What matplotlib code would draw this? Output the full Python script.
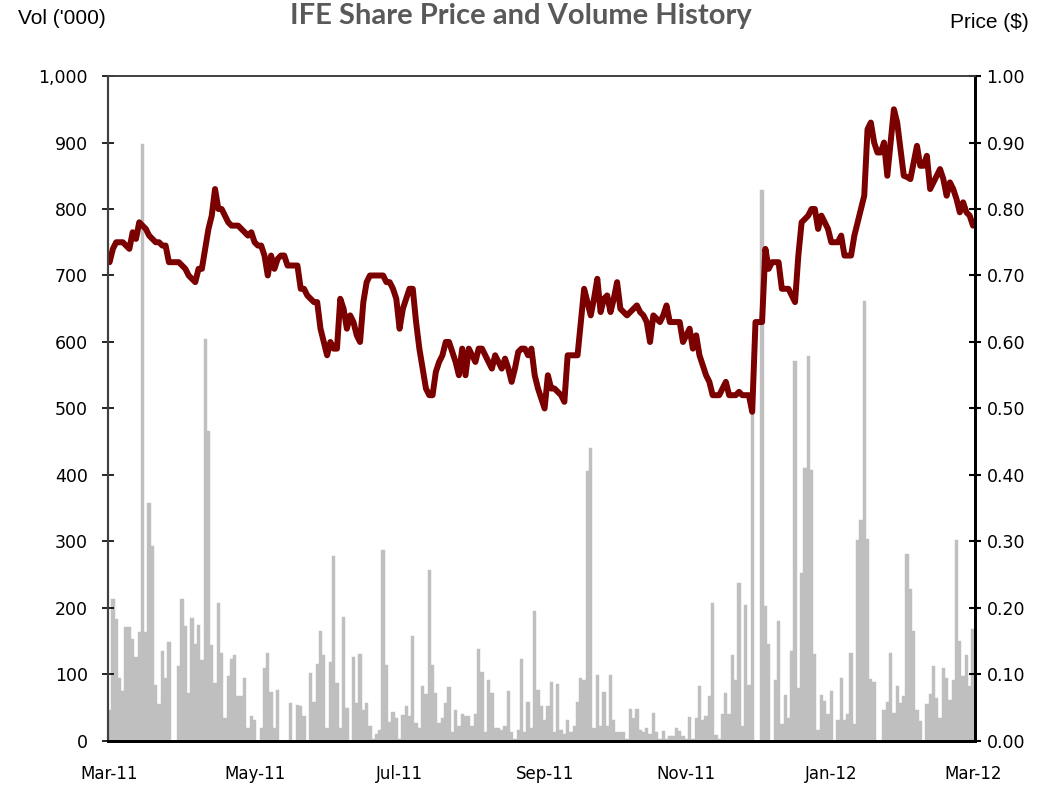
import numpy as np
import pandas as pd
import matplotlib
matplotlib.use('Agg')
import matplotlib.pyplot as plt
from matplotlib.ticker import FuncFormatter

# daily traded volume ('000), one value per trading day from 1 Mar 2011
volume = [
    47, 213, 183, 95, 75, 171, 171, 153, 126, 164,
    898, 164, 358, 293, 84, 56, 136, 94, 149, 0,
    0, 113, 213, 173, 72, 185, 146, 174, 122, 604,
    466, 144, 87, 207, 133, 35, 97, 123, 129, 67,
    67, 94, 20, 38, 32, 0, 20, 109, 132, 74,
    19, 77, 0, 0, 0, 57, 0, 54, 52, 37,
    0, 102, 59, 115, 166, 129, 20, 119, 278, 87,
    20, 187, 50, 0, 126, 57, 131, 47, 57, 22,
    3, 10, 17, 287, 114, 29, 44, 34, 3, 39,
    52, 37, 158, 27, 20, 83, 70, 257,
    114, 72, 27, 34, 57, 81, 13, 47, 23, 40,
    37, 38, 22, 40, 138, 104, 13, 92, 72, 20,
    19, 17, 23, 75, 13, 3, 17, 123, 13, 58,
    19, 195, 76, 52, 32, 52, 89, 13, 85, 17,
    10, 32, 13, 22, 58, 94, 91, 406, 441, 19,
    99, 23, 74, 23, 99, 32, 13, 13, 13, 3,
    48, 34, 48, 17, 13, 19, 10, 42, 13, 3,
    15, 3, 7, 8, 19, 15, 8, 3, 36, 3,
    34, 83, 32, 37, 67, 208, 9, 3, 40, 72,
    40, 129, 91, 237, 23, 205,
    84, 498, 0, 0, 828, 203, 146, 0, 91, 181,
    26, 69, 34, 136, 572, 79, 252, 411, 579, 407,
    131, 17, 69, 60, 40, 75, 0, 32, 95, 32,
    40, 133, 26, 302, 332, 661, 303, 93, 89, 0,
    0, 47, 59, 133, 42, 83, 57, 67, 281, 228,
    166, 47, 30, 0, 55, 70, 113, 64, 34, 109,
    94, 62, 92, 302, 151, 97, 130, 82, 168,
]

# closing share price ($)
price = [
    0.72, 0.74, 0.75, 0.75, 0.75, 0.745, 0.74, 0.765, 0.755, 0.78,
    0.775, 0.77, 0.76, 0.755, 0.75, 0.75, 0.745, 0.745, 0.72, 0.72,
    0.72, 0.72, 0.715, 0.71, 0.70, 0.695, 0.69, 0.71, 0.71, 0.74,
    0.77, 0.79, 0.83, 0.80, 0.80, 0.79, 0.78, 0.775, 0.775, 0.775,
    0.77, 0.765, 0.76, 0.765, 0.75, 0.745, 0.745, 0.73, 0.70, 0.73,
    0.71, 0.725, 0.73, 0.73, 0.715, 0.715, 0.715, 0.715, 0.68, 0.68,
    0.67, 0.665, 0.66, 0.66, 0.62, 0.60, 0.58, 0.60, 0.59, 0.59,
    0.665, 0.65, 0.62, 0.64, 0.63, 0.61, 0.60, 0.66, 0.69, 0.70,
    0.70, 0.70, 0.70, 0.70, 0.69, 0.69, 0.68, 0.665, 0.62, 0.65,
    0.665, 0.68, 0.68, 0.63, 0.59, 0.56, 0.53, 0.52, 0.52, 0.555,
    0.57, 0.58, 0.60, 0.60, 0.585, 0.57, 0.55, 0.59, 0.55, 0.59,
    0.58, 0.57, 0.59, 0.59, 0.58, 0.57, 0.56, 0.58, 0.57, 0.56,
    0.575, 0.56, 0.54, 0.56, 0.585, 0.59, 0.59, 0.58, 0.59, 0.55,
    0.53, 0.515, 0.50, 0.55, 0.53, 0.53, 0.525, 0.52, 0.51, 0.58,
    0.58, 0.58, 0.58, 0.63, 0.68, 0.66, 0.64, 0.665, 0.695, 0.645,
    0.665, 0.67, 0.645, 0.665, 0.69, 0.65, 0.645, 0.64, 0.645, 0.65,
    0.655, 0.645, 0.64, 0.63, 0.60, 0.64, 0.635, 0.63, 0.64, 0.655,
    0.63, 0.63, 0.63, 0.63, 0.60, 0.61, 0.62, 0.59, 0.61, 0.58,
    0.565, 0.55, 0.54, 0.52, 0.52, 0.52, 0.53, 0.54, 0.52, 0.52,
    0.52, 0.525, 0.52, 0.52, 0.52, 0.495, 0.63, 0.63, 0.63, 0.74,
    0.71, 0.72, 0.72, 0.72, 0.68, 0.68, 0.68, 0.67, 0.66, 0.73,
    0.78, 0.785, 0.79, 0.80, 0.80, 0.77, 0.79, 0.78, 0.77, 0.75,
    0.75, 0.75, 0.76, 0.73, 0.73, 0.73, 0.76, 0.78, 0.80, 0.82,
    0.92, 0.93, 0.90, 0.885, 0.885, 0.90, 0.85, 0.90, 0.95, 0.93,
    0.89, 0.85, 0.848, 0.845, 0.87, 0.895, 0.865, 0.865, 0.88, 0.83,
    0.84, 0.85, 0.86, 0.845, 0.82, 0.84, 0.83, 0.815, 0.795, 0.81,
    0.795, 0.79, 0.775,
]

tick_labels = ['Mar-11', 'May-11', 'Jul-11', 'Sep-11', 'Nov-11', 'Jan-12', 'Mar-12']

dates = pd.bdate_range('2011-03-01', periods=len(volume))
tick_pos = [int(np.searchsorted(dates, pd.to_datetime(lbl, format='%b-%y'))) for lbl in tick_labels]

fig = plt.figure(figsize=(10.48, 7.86), dpi=100)
ax = fig.add_axes([0.103, 0.0573, 0.827, 0.846])
x = np.arange(len(volume))

ax.bar(x, volume, width=1.0, color='#BFBFBF', edgecolor='#BFBFBF', linewidth=0.3)
ax.set_xlim(-0.5, len(volume) - 0.5)
ax.set_ylim(0, 1000)
ax.set_yticks(range(0, 1001, 100))
ax.yaxis.set_major_formatter(FuncFormatter(lambda v, p: f'{int(v):,}'))
ax.set_xticks(tick_pos)
ax.set_xticklabels(tick_labels)
ax.tick_params(axis='x', length=0, pad=17, labelsize=12)
ax.tick_params(axis='y', direction='inout', length=9, width=1.2, pad=10, labelsize=12.5)

ax2 = ax.twinx()
ax2.plot(x, price, color='#7B0000', lw=4.3, solid_joinstyle='round', solid_capstyle='round')
ax2.set_ylim(0, 1)
ax2.set_yticks(np.arange(0, 1.01, 0.1))
ax2.yaxis.set_major_formatter(FuncFormatter(lambda v, p: f'{v:.2f}'))
ax2.tick_params(axis='y', direction='inout', length=9, width=1.5, pad=4, labelsize=12.5)

for a in (ax, ax2):
    a.spines['top'].set_color('#404040')
    a.spines['top'].set_linewidth(1.2)
    a.spines['left'].set_color('#404040')
    a.spines['left'].set_linewidth(1.5)
    a.spines['right'].set_color('black')
    a.spines['right'].set_linewidth(2)
    a.spines['bottom'].set_color('black')
    a.spines['bottom'].set_linewidth(2)

fig.text(0.497, 0.980, 'IFE Share Price and Volume History', ha='center', va='center',
         fontsize=21, fontweight='bold', color='#595959', family='Lato')
fig.text(18 / 1048, 0.977, "Vol ('000)", ha='left', va='center', fontsize=15,
         family='Liberation Sans')
fig.text(1029 / 1048, 0.972, 'Price ($)', ha='right', va='center', fontsize=15,
         family='Liberation Sans')

fig.savefig('out.png', dpi=100)
